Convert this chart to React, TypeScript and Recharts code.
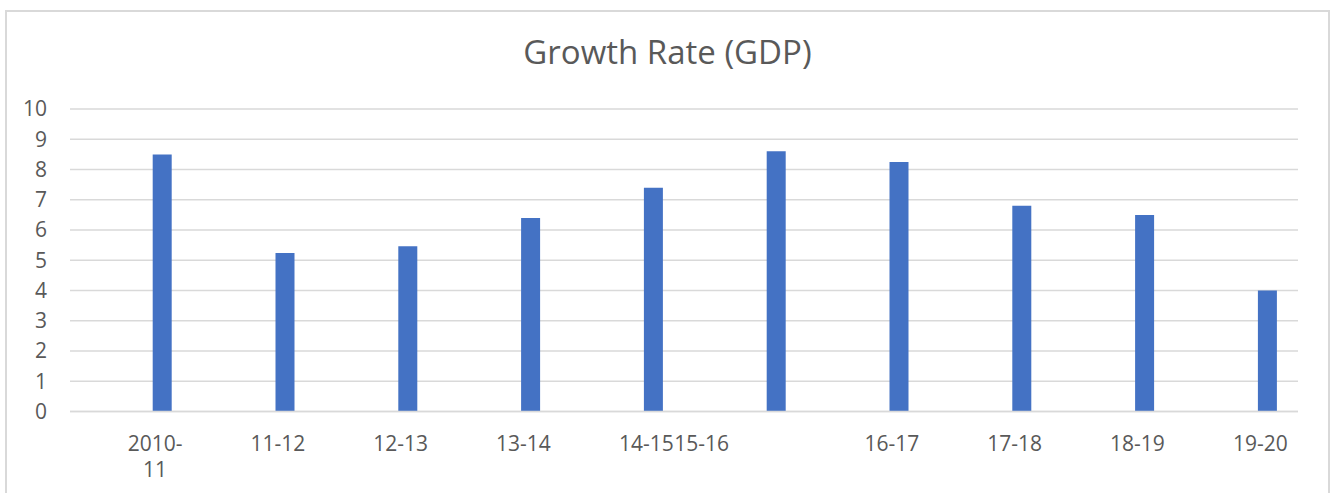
import { Bar, BarChart, CartesianGrid, XAxis, YAxis } from "recharts";

const CATEGORIES = [
  "2010-11",
  "11-12",
  "12-13",
  "13-14",
  "14-15",
  "15-16",
  "16-17",
  "17-18",
  "18-19",
  "19-20",
];

const GROWTH_RATE = [8.5, 5.24, 5.46, 6.4, 7.4, 8.6, 8.25, 6.8, 6.5, 4.0];

const Y_TICKS = [0, 1, 2, 3, 4, 5, 6, 7, 8, 9, 10];

const TEXT_COLOR = "#595959";
const GRID_COLOR = "#d9d9d9";
const BAR_COLOR = "#4472C4";
const FONT = "'Open Sans', 'Noto Sans', sans-serif";

const chartData = CATEGORIES.map((label, idx) => ({
  idx,
  label,
  growth: GROWTH_RATE[idx],
}));

function CategoryTick(props: any) {
  const { x, y, payload } = props;
  const label = CATEGORIES[payload.value] ?? "";
  // long labels wrap after the dash, like "2010-" / "11"
  const cut = label.indexOf("-") + 1;
  const lines = label.length > 5 ? [label.slice(0, cut), label.slice(cut)] : [label];
  // in the source sheet "15-16" ends up glued to the right of "14-15"
  const glued = payload.value === 5;
  const tx = glued ? x - 47 : x - 7;

  return (
    <text
      x={tx}
      y={y + 31}
      textAnchor={glued ? "end" : "middle"}
      fill={TEXT_COLOR}
      fontFamily={FONT}
      fontSize={21}
    >
      {lines.map((line, i) => (
        <tspan key={i} x={tx} dy={i === 0 ? 0 : 26}>
          {line}
        </tspan>
      ))}
    </text>
  );
}

export default function App() {
  return (
    <div
      style={{
        position: "absolute",
        left: 0,
        top: 0,
        width: 1330,
        height: 493,
        background: "#fff",
        overflow: "hidden",
      }}
    >
      <div
        style={{
          position: "absolute",
          left: 5,
          top: 10,
          width: 1321,
          height: 500,
          borderLeft: `2px solid ${GRID_COLOR}`,
          borderTop: `2px solid ${GRID_COLOR}`,
          borderRight: `2px solid ${GRID_COLOR}`,
        }}
      />

      <div
        style={{
          position: "absolute",
          left: 5,
          width: 1325,
          top: 32,
          textAlign: "center",
          fontFamily: FONT,
          fontSize: 33,
          color: TEXT_COLOR,
          lineHeight: "40px",
        }}
      >
        Growth Rate (GDP)
      </div>

      <div style={{ position: "absolute", left: 0, top: 0 }}>
        <BarChart
          width={1330}
          height={493}
          data={chartData}
          margin={{ top: 109, right: 32, bottom: 51.5, left: 10 }}
        >
          <CartesianGrid
            vertical={false}
            stroke={GRID_COLOR}
            strokeWidth={1.5}
          />
          <XAxis
            type="number"
            dataKey="idx"
            domain={[-0.75, 9.25]}
            ticks={[0, 1, 2, 3, 4, 5, 6, 7, 8, 9]}
            interval={0}
            height={30}
            axisLine={{ stroke: GRID_COLOR, strokeWidth: 1.5 }}
            tickLine={false}
            tick={<CategoryTick />}
          />
          <YAxis
            width={60}
            domain={[0, 10]}
            ticks={Y_TICKS}
            interval={0}
            axisLine={false}
            tickLine={false}
            tickMargin={17}
            tick={{ fill: TEXT_COLOR, fontSize: 21, fontFamily: FONT }}
          />
          <Bar
            dataKey="growth"
            fill={BAR_COLOR}
            barSize={19}
            isAnimationActive={false}
          />
        </BarChart>
      </div>
    </div>
  );
}
